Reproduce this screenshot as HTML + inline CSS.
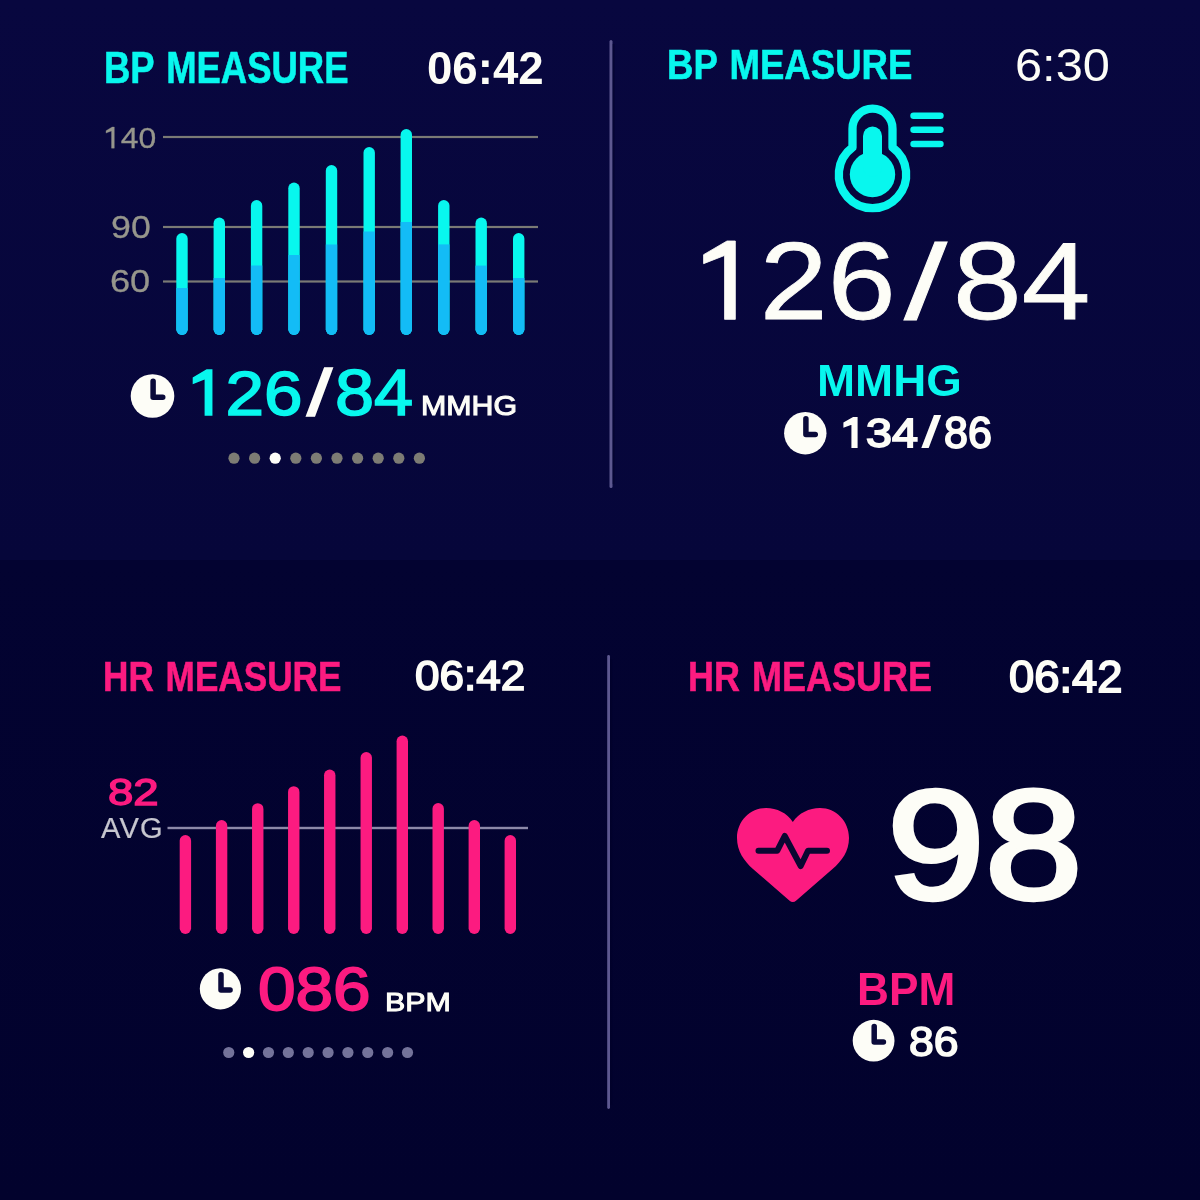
<!DOCTYPE html>
<html lang="en">
<head>
<meta charset="utf-8">
<title>Health measure watch faces</title>
<style>
html,body{margin:0;padding:0;}
body{width:1200px;height:1200px;overflow:hidden;position:relative;font-family:"Liberation Sans",sans-serif;background:linear-gradient(180deg,#08073f 0,#06063a 560px,#030331 560px,#02022d 1200px);}
.t{position:absolute;white-space:nowrap;line-height:1;transform-origin:0 0;}
.o{position:relative;display:inline-block;}
.h{color:transparent;-webkit-text-stroke-color:transparent;}
.o svg{position:absolute;left:0;top:.1305em;width:.556em;height:.716em;overflow:visible;}
.g{position:absolute;left:0;top:0;}
.w{position:absolute;left:0;top:0;width:1200px;height:1200px;filter:blur(0.55px);}
</style>
</head>
<body>
<div class="w">
<svg class="g" width="1200" height="1200" viewBox="0 0 1200 1200">
<rect x="609.5" y="40" width="3" height="448" rx="1.5" fill="#5d5890"/>
<rect x="607.2" y="655" width="2.8" height="454" rx="1.4" fill="#5d5890"/>
<rect x="612.6" y="44" width="2" height="440" fill="#03032c" opacity=".55"/>
<rect x="610.1" y="659" width="2" height="446" fill="#01012a" opacity=".55"/>
<rect x="163" y="135.9" width="375" height="2.2" fill="#7a7a75"/>
<rect x="163" y="225.9" width="375" height="2.2" fill="#7a7a75"/>
<rect x="163" y="280.4" width="375" height="2.2" fill="#7a7a75"/>
<clipPath id="c0"><rect x="176.30" y="233.00" width="11.40" height="102.00" rx="5.70"/></clipPath>
<g clip-path="url(#c0)"><rect x="175.30" y="232.00" width="13.40" height="104.00" fill="#08f7ee"/><rect x="175.30" y="288.00" width="13.40" height="49.00" fill="#13bcf6"/></g>
<clipPath id="c1"><rect x="213.60" y="217.50" width="11.40" height="117.50" rx="5.70"/></clipPath>
<g clip-path="url(#c1)"><rect x="212.60" y="216.50" width="13.40" height="119.50" fill="#08f7ee"/><rect x="212.60" y="278.00" width="13.40" height="59.00" fill="#13bcf6"/></g>
<clipPath id="c2"><rect x="250.90" y="200.00" width="11.40" height="135.00" rx="5.70"/></clipPath>
<g clip-path="url(#c2)"><rect x="249.90" y="199.00" width="13.40" height="137.00" fill="#08f7ee"/><rect x="249.90" y="265.50" width="13.40" height="71.50" fill="#13bcf6"/></g>
<clipPath id="c3"><rect x="288.30" y="182.50" width="11.40" height="152.50" rx="5.70"/></clipPath>
<g clip-path="url(#c3)"><rect x="287.30" y="181.50" width="13.40" height="154.50" fill="#08f7ee"/><rect x="287.30" y="255.00" width="13.40" height="82.00" fill="#13bcf6"/></g>
<clipPath id="c4"><rect x="325.80" y="165.00" width="11.40" height="170.00" rx="5.70"/></clipPath>
<g clip-path="url(#c4)"><rect x="324.80" y="164.00" width="13.40" height="172.00" fill="#08f7ee"/><rect x="324.80" y="244.50" width="13.40" height="92.50" fill="#13bcf6"/></g>
<clipPath id="c5"><rect x="363.50" y="147.00" width="11.40" height="188.00" rx="5.70"/></clipPath>
<g clip-path="url(#c5)"><rect x="362.50" y="146.00" width="13.40" height="190.00" fill="#08f7ee"/><rect x="362.50" y="231.50" width="13.40" height="105.50" fill="#13bcf6"/></g>
<clipPath id="c6"><rect x="400.60" y="129.00" width="11.40" height="206.00" rx="5.70"/></clipPath>
<g clip-path="url(#c6)"><rect x="399.60" y="128.00" width="13.40" height="208.00" fill="#08f7ee"/><rect x="399.60" y="222.00" width="13.40" height="115.00" fill="#13bcf6"/></g>
<clipPath id="c7"><rect x="438.10" y="200.00" width="11.40" height="135.00" rx="5.70"/></clipPath>
<g clip-path="url(#c7)"><rect x="437.10" y="199.00" width="13.40" height="137.00" fill="#08f7ee"/><rect x="437.10" y="244.40" width="13.40" height="92.60" fill="#13bcf6"/></g>
<clipPath id="c8"><rect x="475.50" y="217.60" width="11.40" height="117.40" rx="5.70"/></clipPath>
<g clip-path="url(#c8)"><rect x="474.50" y="216.60" width="13.40" height="119.40" fill="#08f7ee"/><rect x="474.50" y="265.60" width="13.40" height="71.40" fill="#13bcf6"/></g>
<clipPath id="c9"><rect x="513.00" y="233.00" width="11.40" height="102.00" rx="5.70"/></clipPath>
<g clip-path="url(#c9)"><rect x="512.00" y="232.00" width="13.40" height="104.00" fill="#08f7ee"/><rect x="512.00" y="278.00" width="13.40" height="59.00" fill="#13bcf6"/></g>
<circle cx="152.50" cy="396.00" r="21.80" fill="#fdfdf7"/>
<path d="M153.10 381.18V397.20H162.75" fill="none" stroke="#0a0a3a" stroke-width="5.5" stroke-linecap="round" stroke-linejoin="round"/>
<circle cx="805.30" cy="433.20" r="21.20" fill="#fdfdf7"/>
<path d="M805.90 418.78V434.40H815.26" fill="none" stroke="#0a0a3a" stroke-width="5.5" stroke-linecap="round" stroke-linejoin="round"/>
<circle cx="220.40" cy="988.80" r="20.60" fill="#fdfdf7"/>
<path d="M221.00 974.79V990.00H230.08" fill="none" stroke="#0a0a3a" stroke-width="5.5" stroke-linecap="round" stroke-linejoin="round"/>
<circle cx="873.60" cy="1040.70" r="20.90" fill="#fdfdf7"/>
<path d="M874.20 1026.49V1041.90H883.42" fill="none" stroke="#0a0a3a" stroke-width="5.5" stroke-linecap="round" stroke-linejoin="round"/>
<circle cx="234.00" cy="458.2" r="5.6" fill="#7d7c74"/>
<circle cx="254.60" cy="458.2" r="5.6" fill="#7d7c74"/>
<circle cx="275.20" cy="458.2" r="5.6" fill="#fdfdf7"/>
<circle cx="295.80" cy="458.2" r="5.6" fill="#7d7c74"/>
<circle cx="316.40" cy="458.2" r="5.6" fill="#7d7c74"/>
<circle cx="337.00" cy="458.2" r="5.6" fill="#7d7c74"/>
<circle cx="357.60" cy="458.2" r="5.6" fill="#7d7c74"/>
<circle cx="378.20" cy="458.2" r="5.6" fill="#7d7c74"/>
<circle cx="398.80" cy="458.2" r="5.6" fill="#7d7c74"/>
<circle cx="419.40" cy="458.2" r="5.6" fill="#7d7c74"/>
<circle cx="228.75" cy="1052.5" r="5.6" fill="#74739a"/>
<circle cx="248.61" cy="1052.5" r="5.6" fill="#fdfdf7"/>
<circle cx="268.47" cy="1052.5" r="5.6" fill="#74739a"/>
<circle cx="288.33" cy="1052.5" r="5.6" fill="#74739a"/>
<circle cx="308.19" cy="1052.5" r="5.6" fill="#74739a"/>
<circle cx="328.05" cy="1052.5" r="5.6" fill="#74739a"/>
<circle cx="347.91" cy="1052.5" r="5.6" fill="#74739a"/>
<circle cx="367.77" cy="1052.5" r="5.6" fill="#74739a"/>
<circle cx="387.63" cy="1052.5" r="5.6" fill="#74739a"/>
<circle cx="407.49" cy="1052.5" r="5.6" fill="#74739a"/>
<path d="M852.5 147.4V128.7A20 20 0 0 1 892.5 128.7V147.4A33.7 33.7 0 1 1 852.5 147.4Z" fill="none" stroke="#08f7ee" stroke-width="8.3" stroke-linejoin="round"/>
<circle cx="872.5" cy="174.5" r="22.7" fill="#08f7ee"/>
<rect x="863" y="126.5" width="19" height="50" rx="9.5" fill="#08f7ee"/>
<rect x="910.3" y="112.50" width="33.4" height="6.6" rx="3.3" fill="#08f7ee"/>
<rect x="910.3" y="126.50" width="33.4" height="6.6" rx="3.3" fill="#08f7ee"/>
<rect x="910.3" y="140.70" width="33.4" height="6.6" rx="3.3" fill="#08f7ee"/>
<rect x="167.5" y="826.8" width="360.5" height="2.4" fill="#8c89a8"/>
<rect x="179.70" y="835.00" width="11.40" height="99.00" rx="5.70" fill="#fc1b80"/>
<rect x="215.90" y="820.00" width="11.40" height="114.00" rx="5.70" fill="#fc1b80"/>
<rect x="252.05" y="803.20" width="11.40" height="130.80" rx="5.70" fill="#fc1b80"/>
<rect x="288.05" y="786.20" width="11.40" height="147.80" rx="5.70" fill="#fc1b80"/>
<rect x="324.05" y="769.50" width="11.40" height="164.50" rx="5.70" fill="#fc1b80"/>
<rect x="360.55" y="752.00" width="11.40" height="182.00" rx="5.70" fill="#fc1b80"/>
<rect x="396.60" y="735.60" width="11.40" height="198.40" rx="5.70" fill="#fc1b80"/>
<rect x="432.50" y="803.00" width="11.40" height="131.00" rx="5.70" fill="#fc1b80"/>
<rect x="468.60" y="820.00" width="11.40" height="114.00" rx="5.70" fill="#fc1b80"/>
<rect x="504.60" y="835.00" width="11.40" height="99.00" rx="5.70" fill="#fc1b80"/>
<path d="M792.8 822 C787 813 777 808 766 808 C750 808 737 821 737 838 C737 851 744 861 753 869 L789.3 900.6 Q792.8 903.6 796.3 900.6 L832.5 869 C842 861 849 851 849 838 C849 821 836 808 820 808 C809 808 799 813 792.8 822Z" fill="#fc1b80"/>
<path d="M758.5 850.7H777.3L784.7 836L800.7 866L808 850.7H827" fill="none" stroke="#0b0732" stroke-width="6" stroke-linecap="round" stroke-linejoin="round"/>
</svg>
<div class="t" style="left:104.03px;top:46.00px;font-size:44.41px;font-weight:700;color:#08f7ee;transform:scaleX(0.8210);-webkit-text-stroke:0.60px #08f7ee;word-spacing:2.5px;">BP MEASURE</div>
<div class="t" style="left:426.87px;top:45.00px;font-size:46.16px;font-weight:700;color:#fdfdf7;transform:scaleX(0.9882);">06:42</div>
<div class="t" style="left:103.14px;top:123.00px;font-size:29.59px;font-weight:400;color:#96968c;transform:scaleX(1.0784);-webkit-text-stroke:0.30px #96968c;"><span class="o"><span class="h">1</span><svg viewBox="0 0 556 716" fill="currentColor" stroke="currentColor" stroke-width="10.1"><path d="M355 0H287L95 125V207L267 132V716H355Z"/></svg></span>40</div>
<div class="t" style="left:110.97px;top:212.00px;font-size:31.41px;font-weight:400;color:#96968c;transform:scaleX(1.1380);-webkit-text-stroke:0.30px #96968c;">90</div>
<div class="t" style="left:110.17px;top:266.00px;font-size:31.45px;font-weight:400;color:#96968c;transform:scaleX(1.1508);-webkit-text-stroke:0.30px #96968c;">60</div>
<div class="t" style="left:186.97px;top:362.00px;font-size:62.68px;font-weight:400;color:#08f7ee;transform:scaleX(1.1045);-webkit-text-stroke:1.60px #08f7ee;"><span class="o"><span class="h">1</span><svg viewBox="0 0 556 716" fill="currentColor" stroke="currentColor" stroke-width="25.5"><path d="M355 0H287L95 125V207L267 132V716H355Z"/></svg></span>26</div>
<div class="t" style="left:306.93px;top:362.00px;font-size:63.95px;font-weight:400;color:#fdfdf7;transform:scaleX(1.4038);-webkit-text-stroke:1.60px #fdfdf7;">/</div>
<div class="t" style="left:335.00px;top:361.00px;font-size:64.58px;font-weight:400;color:#08f7ee;transform:scaleX(1.0886);-webkit-text-stroke:1.60px #08f7ee;">84</div>
<div class="t" style="left:420.53px;top:392.00px;font-size:27.76px;font-weight:400;color:#fdfdf7;transform:scaleX(1.0923);-webkit-text-stroke:1.10px #fdfdf7;">MMHG</div>
<div class="t" style="left:667.05px;top:43.00px;font-size:43.30px;font-weight:700;color:#08f7ee;transform:scaleX(0.8450);-webkit-text-stroke:0.60px #08f7ee;word-spacing:2.5px;">BP MEASURE</div>
<div class="t" style="left:1014.58px;top:41.00px;font-size:47.01px;font-weight:400;color:#fdfdf7;transform:scaleX(1.0370);">6:30</div>
<div class="t" style="left:691.50px;top:227.00px;font-size:109.46px;font-weight:400;color:#fdfdf7;transform:scaleX(1.1148);-webkit-text-stroke:0.80px #fdfdf7;"><span class="o"><span class="h">1</span><svg viewBox="0 0 556 716" fill="currentColor" stroke="currentColor" stroke-width="7.3"><path d="M355 0H287L95 125V207L267 132V716H355Z"/></svg></span>26</div>
<div class="t" style="left:903.86px;top:230.00px;font-size:106.35px;font-weight:400;color:#fdfdf7;transform:scaleX(1.4570);-webkit-text-stroke:0.80px #fdfdf7;">/</div>
<div class="t" style="left:952.95px;top:227.00px;font-size:109.27px;font-weight:400;color:#fdfdf7;transform:scaleX(1.1296);-webkit-text-stroke:0.80px #fdfdf7;">84</div>
<div class="t" style="left:816.53px;top:359.00px;font-size:43.80px;font-weight:700;color:#08f7ee;transform:scaleX(1.0443);">MMHG</div>
<div class="t" style="left:840.37px;top:413.00px;font-size:40.58px;font-weight:400;color:#fdfdf7;transform:scaleX(1.1504);-webkit-text-stroke:1.80px #fdfdf7;"><span class="o"><span class="h">1</span><svg viewBox="0 0 556 716" fill="currentColor" stroke="currentColor" stroke-width="44.4"><path d="M355 0H287L95 125V207L267 132V716H355Z"/></svg></span>34</div>
<div class="t" style="left:923.39px;top:411.00px;font-size:43.29px;font-weight:400;color:#fdfdf7;transform:scaleX(1.3745);-webkit-text-stroke:1.80px #fdfdf7;">/</div>
<div class="t" style="left:944.25px;top:411.00px;font-size:43.92px;font-weight:400;color:#fdfdf7;transform:scaleX(0.9799);-webkit-text-stroke:1.80px #fdfdf7;">86</div>
<div class="t" style="left:102.58px;top:656.00px;font-size:41.79px;font-weight:700;color:#fc1b80;transform:scaleX(0.8410);-webkit-text-stroke:0.60px #fc1b80;word-spacing:2.5px;">HR MEASURE</div>
<div class="t" style="left:415.38px;top:654.00px;font-size:43.30px;font-weight:400;color:#fdfdf7;transform:scaleX(1.0174);-webkit-text-stroke:1.70px #fdfdf7;">06:42</div>
<div class="t" style="left:107.99px;top:774.00px;font-size:37.13px;font-weight:400;color:#fc1b80;transform:scaleX(1.2275);-webkit-text-stroke:1.40px #fc1b80;">82</div>
<div class="t" style="left:100.69px;top:814.00px;font-size:28.70px;font-weight:400;color:#c6c6cf;transform:scaleX(1.0138);-webkit-text-stroke:0.20px #c6c6cf;letter-spacing:0.040em;">AVG</div>
<div class="t" style="left:258.12px;top:959.00px;font-size:61.00px;font-weight:400;color:#fc1b80;transform:scaleX(1.1069);-webkit-text-stroke:1.80px #fc1b80;">086</div>
<div class="t" style="left:385.29px;top:989.00px;font-size:26.60px;font-weight:400;color:#fdfdf7;transform:scaleX(1.1439);-webkit-text-stroke:1.00px #fdfdf7;">BPM</div>
<div class="t" style="left:688.47px;top:655.00px;font-size:43.30px;font-weight:700;color:#fc1b80;transform:scaleX(0.8311);-webkit-text-stroke:0.60px #fc1b80;word-spacing:2.5px;">HR MEASURE</div>
<div class="t" style="left:1008.79px;top:654.00px;font-size:45.08px;font-weight:400;color:#fdfdf7;transform:scaleX(1.0072);-webkit-text-stroke:1.80px #fdfdf7;">06:42</div>
<div class="t" style="left:887.08px;top:767.00px;font-size:155.54px;font-weight:400;color:#fdfdf7;transform:scaleX(1.1307);-webkit-text-stroke:4.40px #fdfdf7;">98</div>
<div class="t" style="left:857.14px;top:967.00px;font-size:45.30px;font-weight:700;color:#fc1b80;transform:scaleX(0.9754);">BPM</div>
<div class="t" style="left:909.04px;top:1020.00px;font-size:43.22px;font-weight:400;color:#fdfdf7;transform:scaleX(1.0309);-webkit-text-stroke:1.60px #fdfdf7;">86</div>
</div>
</body>
</html>
